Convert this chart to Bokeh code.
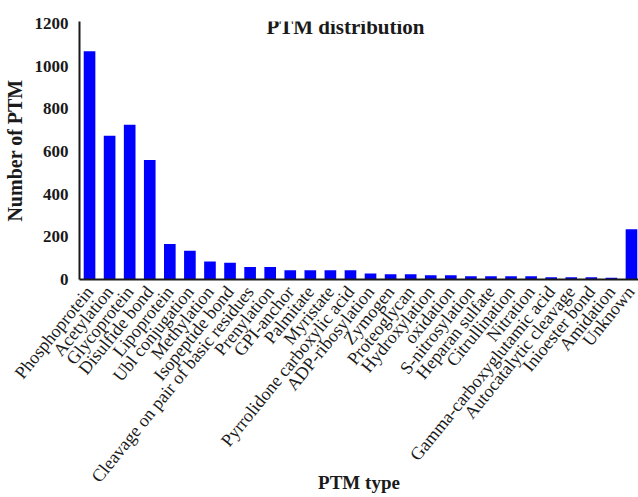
from bokeh.plotting import figure
from bokeh.models import Range1d, FixedTicker, Label
from bokeh.embed import file_html
from bokeh.resources import INLINE

categories = [
    "Phosphoprotein", "Acetylation", "Glycoprotein", "Disulfide bond", "Lipoprotein",
    "Ubl conjugation", "Methylation", "Isopeptide bond",
    "Cleavage on pair of basic residues", "Prenylation", "GPI-anchor", "Palmitate",
    "Myristate", "Pyrrolidone carboxylic acid", "ADP-ribosylation", "Zymogen",
    "Proteoglycan", "Hydroxylation", "oxidation", "S-nitrosylation", "Heparan sulfate",
    "Citrullination", "Nitration", "Gamma-carboxyglutamic acid", "Autocatalytic cleavage",
    "Inioester bond", "Amidation", "Unknown",
]
counts = [1070, 674, 726, 561, 166, 135, 85, 78, 59, 59, 43, 43, 43, 43, 28, 25,
          25, 20, 20, 15, 15, 15, 15, 11, 11, 11, 8, 236]
y_ticks = [0, 200, 400, 600, 800, 1000, 1200]

FONT = "Liberation Serif"

xs = list(range(len(categories)))
p = figure(width=638, height=495, output_backend="svg", toolbar_location=None,
           x_range=Range1d(-0.5, 27.35), y_range=Range1d(0, 1210),
           min_border_left=0, min_border_right=0, min_border_top=21, min_border_bottom=0)
p.vbar(x=xs, top=counts, width=0.58, fill_color="#0000ff", line_color=None)

p.grid.visible = False
p.outline_line_color = None
p.background_fill_color = "white"

for ax in (p.xaxis[0], p.yaxis[0]):
    ax.axis_line_color = "#1a1a1a"
    ax.axis_line_width = 2
    ax.major_tick_line_color = None
    ax.minor_tick_line_color = None
    ax.major_label_text_font = FONT
    ax.axis_label_text_font = FONT
    ax.axis_label_text_font_style = "bold"
    ax.axis_label_text_color = "#1a1a1a"
    ax.major_label_text_color = "#1a1a1a"

p.xaxis.ticker = FixedTicker(ticks=xs)
p.xaxis.major_label_overrides = {i: c for i, c in enumerate(categories)}
p.xaxis.major_label_orientation = 0.89
p.xaxis.major_label_text_font_size = "18px"
p.xaxis.major_label_standoff = 3
p.xaxis.axis_label = "PTM type"
p.xaxis.axis_label_text_font_size = "19px"
p.xaxis.axis_label_standoff = -24

p.yaxis.ticker = FixedTicker(ticks=y_ticks)
p.yaxis.major_label_text_font_size = "17px"
p.yaxis.major_label_text_font_style = "bold"
p.yaxis.major_label_standoff = 5
p.yaxis.axis_label = "Number of PTM"
p.yaxis.axis_label_text_font_size = "20px"
p.yaxis.axis_label_standoff = 6

title = Label(x=12.75, y=1183, text="PTM distribution", text_font=FONT,
              text_font_size="21px", text_font_style="bold", text_color="#1a1a1a",
              text_align="center", text_baseline="middle")
p.add_layout(title)

open("out.html", "w").write(file_html(p, INLINE))
